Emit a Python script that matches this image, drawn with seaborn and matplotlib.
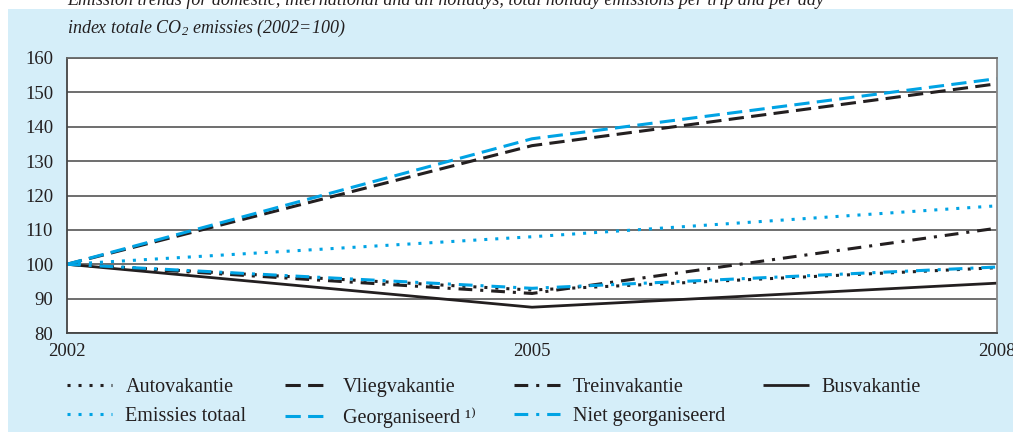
import matplotlib
matplotlib.use("Agg")
import matplotlib.pyplot as plt
from matplotlib.patches import Rectangle
import pandas as pd
import seaborn as sns

# Index of total CO2 emissions per holiday type (2002 = 100)
years = [2002, 2005, 2008]
busvakantie = [100, 87.5, 94.5]
autovakantie = [100, 92.5, 99.0]
treinvakantie = [100, 91.5, 110.5]
vliegvakantie = [100, 134.5, 152.5]
emissies_totaal = [100, 108.0, 117.0]
georganiseerd = [100, 136.5, 154.0]
niet_georganiseerd = [100, 93.0, 99.2]

y_ticks = [80, 90, 100, 110, 120, 130, 140, 150, 160]
x_ticks = [2002, 2005, 2008]

BLACK = "#231f20"
BLUE = "#00a3e4"
PANEL = "#d5eef9"

series = [
    ("Busvakantie", busvakantie, BLACK, "solid"),
    ("Autovakantie", autovakantie, BLACK, (1, 2.6)),
    ("Treinvakantie", treinvakantie, BLACK, (4.5, 2.6, 1, 2.6)),
    ("Vliegvakantie", vliegvakantie, BLACK, (5, 2.4)),
    ("Emissies totaal", emissies_totaal, BLUE, (1, 2.6)),
    ("Georganiseerd \u00b9\u207e", georganiseerd, BLUE, (5, 2.4)),
    ("Niet georganiseerd", niet_georganiseerd, BLUE, (4.5, 2.6, 1, 2.6)),
]

sns.set_theme(style="white")
plt.rcParams["font.family"] = ["Liberation Serif", "DejaVu Serif"]
plt.rcParams["mathtext.fontset"] = "custom"
plt.rcParams["mathtext.rm"] = "Liberation Serif:italic"
plt.rcParams["mathtext.it"] = "Liberation Serif:italic"

fig = plt.figure(figsize=(10.13, 4.32), dpi=100)
fig.patch.set_facecolor("white")
fig.patches.append(Rectangle((8 / 1013, 0), 1, 1 - 9 / 432, transform=fig.transFigure,
                             facecolor=PANEL, edgecolor="none", zorder=-10))

ax = fig.add_axes([67 / 1013, 1 - 333 / 432, (997 - 67) / 1013, (333 - 58) / 432])
ax.set_facecolor("white")

handles = {}
for name, values, color, style in series:
    df = pd.DataFrame({"jaar": years, "index": values})
    sns.lineplot(data=df, x="jaar", y="index", ax=ax, color=color, linewidth=2.2,
                 legend=False)
    line = ax.lines[-1]
    if style == "solid":
        line.set_linestyle("-")
        line.set_linewidth(2.0)
    else:
        line.set_dashes(style)
    line.set_label(name)
    line.set_solid_capstyle("butt")
    line.set_dash_capstyle("butt")
    line.set_clip_on(False)
    handles[name] = line

ax.set_xlim(2002, 2008)
ax.set_ylim(80, 160)
ax.set_xticks(x_ticks)
ax.set_xticklabels([str(t) for t in x_ticks], fontsize=13.5, color=BLACK)
ax.set_yticks(y_ticks)
ax.set_yticklabels([str(t) for t in y_ticks], fontsize=13.5, color=BLACK)
ax.tick_params(axis="y", length=0, pad=10)
ax.tick_params(axis="x", length=5, width=1, color=BLACK, direction="out", pad=2)
ax.set_xlabel("")
ax.set_ylabel("")

ax.grid(axis="y", color="#555555", linewidth=1.2)
ax.set_axisbelow(True)
for side, col in [("left", "#444444"), ("bottom", "#444444"), ("top", "#666666"), ("right", "#888888")]:
    ax.spines[side].set_visible(True)
    ax.spines[side].set_color(col)
    ax.spines[side].set_linewidth(1.3)

fig.text(67 / 1013, 1 - 28 / 432, "index totale CO$_2$ emissies (2002=100)",
         fontsize=13, style="italic", color=BLACK, va="center", ha="left")
fig.text(67 / 1013, 1 - 5 / 432,
         "Emission trends for domestic, international and all holidays, total holiday emissions per trip and per day",
         fontsize=13, style="italic", color=BLACK, va="baseline", ha="left")

order = ["Autovakantie", "Emissies totaal", "Vliegvakantie", "Georganiseerd \u00b9\u207e",
         "Treinvakantie", "Niet georganiseerd", "Busvakantie"]
leg = fig.legend([handles[k] for k in order],
                 [k for k in order], ncol=4, loc="upper left",
                 bbox_to_anchor=(67 / 1013, 1 - 378 / 432), frameon=False,
                 borderpad=0, borderaxespad=0,
                 fontsize=14.5, handlelength=2.25, handletextpad=0.65,
                 columnspacing=1.9, labelspacing=0.5)
for t in leg.get_texts():
    t.set_color(BLACK)

fig.savefig("out.png", dpi=100)
